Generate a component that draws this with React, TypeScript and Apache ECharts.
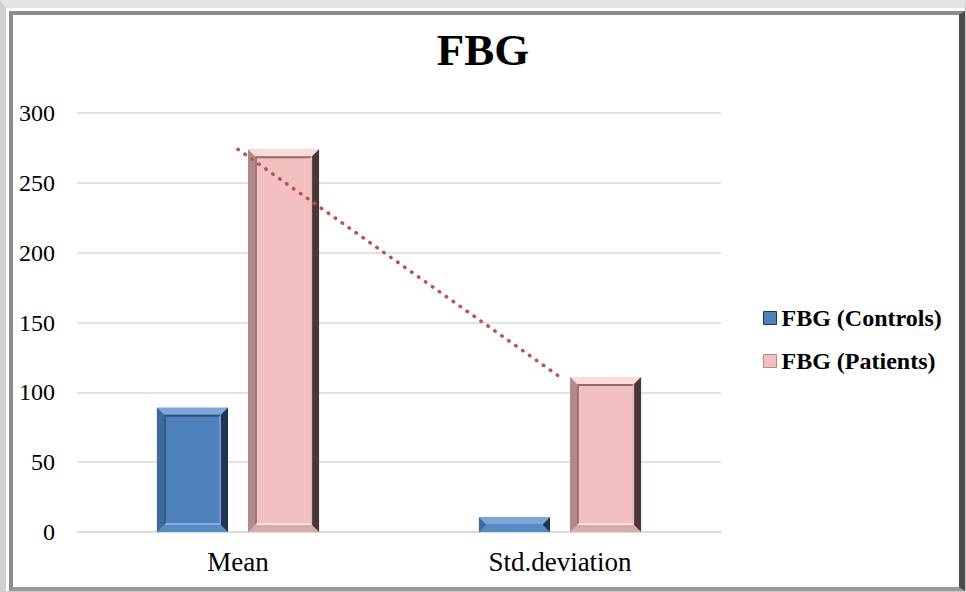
import React, { useEffect, useRef } from "react";
import * as echarts from "echarts";

const categories = ["Mean", "Std.deviation"];
const controls = [89, 10.5];
const patients = [274, 111];
const seriesNames = ["FBG (Controls)", "FBG (Patients)"];
const yTicks = { min: 0, max: 300, interval: 50 };

const FONT = '"Liberation Serif", "Times New Roman", serif';

type Pal = {
  face: string; top: string; left: string; right: string; bottom: string;
  iTop: string; iLeft: string; iRight: string; iBottom: string;
};
const bluePal: Pal = {
  face: "#4F81BD", top: "#7FA6DA", left: "#3F6A9E", right: "#1F3552", bottom: "#5A88C2",
  iTop: "#2E4E7A", iLeft: "#34598A", iRight: "#6F9AD2", iBottom: "#86ADE0",
};
const pinkPal: Pal = {
  face: "#F2C0C0", top: "#FBDADA", left: "#B08A8A", right: "#4A3636", bottom: "#D9AAAA",
  iTop: "#8E6A6A", iLeft: "#9A7676", iRight: "#E8BABA", iBottom: "#FBE0E0",
};

function makeRender(side: number, pal: Pal) {
  return (params: any, api: any) => {
    const ci = api.value(0);
    const v = api.value(1);
    const c = api.coord([ci, v]);
    const base = api.coord([ci, 0]);
    const band = api.size([1, 0])[0];
    const barW = band * 0.2208;
    const gap = band * 0.062;
    const cx = c[0] + side * (barW / 2 + gap / 2);
    const x0 = cx - barW / 2;
    const x1 = cx + barW / 2;
    const top = c[1];
    const bottom = base[1];
    const h = bottom - top;
    const b = Math.min(7, h / 2, barW / 2);
    const poly = (pts: number[][], fill: string) => ({
      type: "polygon",
      shape: { points: pts },
      style: { fill, stroke: null },
    });
    const ring = (ax0: number, ay0: number, ax1: number, ay1: number, w: number, t: string, l: string, r: string, bo: string) => [
      poly([[ax0, ay0], [ax1, ay0], [ax1 - w, ay0 + w], [ax0 + w, ay0 + w]], t),
      poly([[ax0, ay1], [ax1, ay1], [ax1 - w, ay1 - w], [ax0 + w, ay1 - w]], bo),
      poly([[ax0, ay0], [ax0 + w, ay0 + w], [ax0 + w, ay1 - w], [ax0, ay1]], l),
      poly([[ax1, ay0], [ax1 - w, ay0 + w], [ax1 - w, ay1 - w], [ax1, ay1]], r),
    ];
    const children: any[] = [
      { type: "rect", shape: { x: x0, y: top, width: barW, height: h }, style: { fill: pal.face } },
      ...ring(x0, top, x1, bottom, b, pal.top, pal.left, pal.right, pal.bottom),
    ];
    if (h > 2 * b + 6) {
      children.push(...ring(x0 + b, top + b, x1 - b, bottom - b, 2, pal.iTop, pal.iLeft, pal.iRight, pal.iBottom));
    }
    return { type: "group", children };
  };
}

export default function App() {
  const ref = useRef<HTMLDivElement>(null);
  useEffect(() => {
    document.body.style.margin = "0";
    if (!ref.current) return;
    const chart = echarts.init(ref.current, null, { renderer: "svg" });
    chart.setOption({
      animation: false,
      backgroundColor: "transparent",
      title: {
        text: "FBG",
        left: "center",
        top: 22,
        textStyle: { fontFamily: FONT, fontSize: 45, fontWeight: "bold", color: "#000" },
      },
      legend: {
        orient: "vertical",
        left: 758,
        top: 301,
        itemWidth: 13,
        itemHeight: 13,
        itemGap: 19,
        icon: "rect",
        data: [
          { name: seriesNames[0], itemStyle: { color: bluePal.face, borderColor: bluePal.right, borderWidth: 1 } },
          { name: seriesNames[1], itemStyle: { color: pinkPal.face, borderColor: pinkPal.left, borderWidth: 1 } },
        ],
        textStyle: { fontFamily: FONT, fontSize: 24, fontWeight: "bold", color: "#000", lineHeight: 24 },
      },
      grid: { left: 77, right: 245, top: 113, bottom: 60, containLabel: false },
      xAxis: {
        type: "category",
        data: categories,
        axisLine: { show: true, lineStyle: { color: "#D9D9D9", width: 1.5 } },
        axisTick: { show: false },
        axisLabel: { fontFamily: FONT, fontSize: 27, color: "#000", margin: 16 },
      },
      yAxis: {
        type: "value",
        min: yTicks.min,
        max: yTicks.max,
        interval: yTicks.interval,
        axisLine: { show: false },
        axisTick: { show: false },
        splitLine: { lineStyle: { color: "#D9D9D9", width: 1.5 } },
        axisLabel: { fontFamily: FONT, fontSize: 24, color: "#000", margin: 22 },
      },
      series: [
        {
          name: seriesNames[0],
          type: "custom",
          itemStyle: { color: bluePal.face },
          encode: { x: 0, y: 1 },
          data: controls.map((v, i) => [i, v]),
          renderItem: makeRender(-1, bluePal),
          z: 2,
        },
        {
          name: seriesNames[1],
          type: "custom",
          itemStyle: { color: pinkPal.face },
          encode: { x: 0, y: 1 },
          data: patients.map((v, i) => [i, v]),
          renderItem: makeRender(1, pinkPal),
          z: 2,
        },
        {
          name: "Linear (FBG (Patients))",
          type: "line",
          data: patients,
          symbol: "none",
          silent: true,
          z: 5,
          lineStyle: { color: "#C0504D", width: 3.5, type: [0.5, 8], cap: "round" },
        },
      ],
    });
    return () => chart.dispose();
  }, []);

  return (
    <div style={{ position: "absolute", left: 0, top: 0, width: 966, height: 592, background: "#fff", overflow: "hidden" }}>
      <div
        style={{
          position: "absolute",
          left: 0,
          top: 0,
          width: 966,
          height: 592,
          boxSizing: "border-box",
          borderTop: "8px solid #e4e4e4",
          borderLeft: "6px solid #d0d0d0",
          borderRight: "1px solid #c8c8c8",
          borderBottom: "1px solid #c8c8c8",
        }}
      />
      <div
        style={{
          position: "absolute",
          left: 9,
          top: 11,
          width: 956,
          height: 580,
          boxSizing: "border-box",
          borderTop: "4px solid #8c8c8c",
          borderLeft: "4px solid #8c8c8c",
          borderRight: "6px solid #4a4a4a",
          borderBottom: "4px solid #9a9a9a",
        }}
      />
      <div ref={ref} style={{ position: "absolute", left: 0, top: 0, width: 966, height: 592 }} />
    </div>
  );
}
